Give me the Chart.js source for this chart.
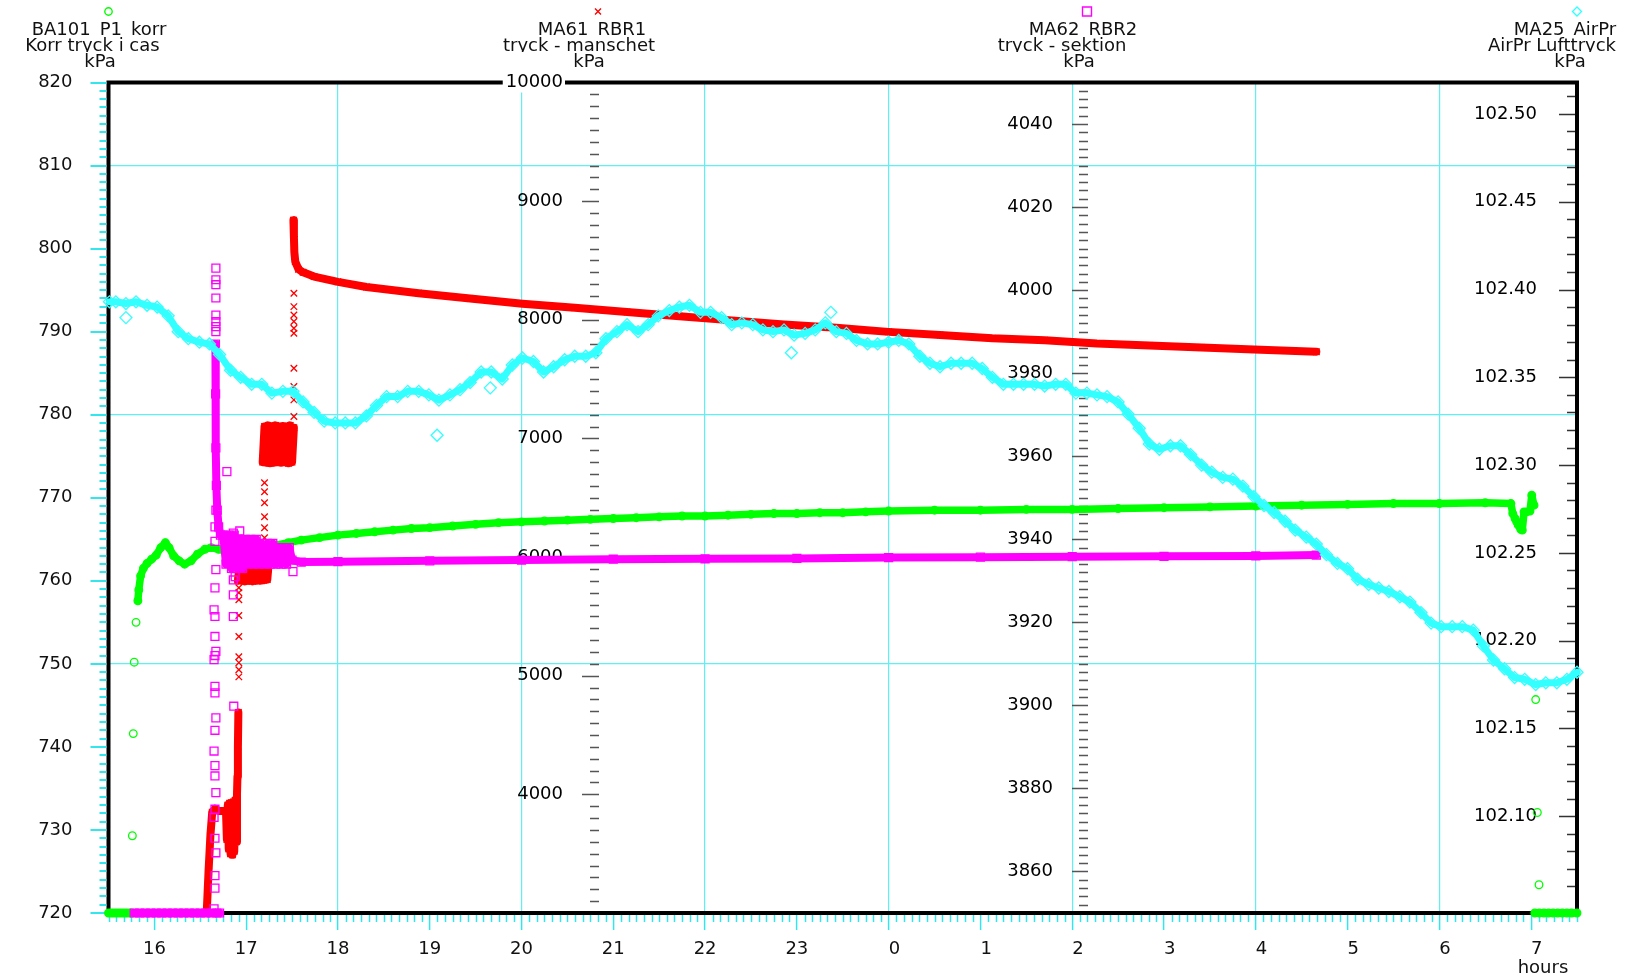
<!DOCTYPE html>
<html>
<head>
<meta charset="utf-8">
<title>BA101 / MA61 / MA62 / MA25</title>
<script src="https://cdn.jsdelivr.net/npm/chart.js@4.4.1/dist/chart.umd.min.js"></script>
<style>
  html, body { margin: 0; padding: 0; background: #fff; }
  canvas { display: block; }
</style>
</head>
<body>
<canvas id="trend" width="1637" height="977"></canvas>
<script>
// time is in hours, counted on past midnight (24 = 0:00, 31 = 7:00)
const hourTicks  = [16, 17, 18, 19, 20, 21, 22, 23, 24, 25, 26, 27, 28, 29, 30, 31];
const hourLabels = ['16', '17', '18', '19', '20', '21', '22', '23', '0', '1', '2', '3', '4', '5', '6', '7'];

// BA101_P1_korr, Korr tryck i cas (left scale, kPa) - null splits the segments
const korrTime = [
  15.50, 15.53, 15.56, 15.59, 15.62, 15.65, 15.68, 15.71, 15.74, 15.76, null,
  15.82, 15.83, 15.85, 15.88, 15.92, 15.97, 16.02, 16.07, 16.12, 16.16,
  16.21, 16.27, 16.33, 16.40, 16.47, 16.55, 16.62, 16.70, 16.78, 16.88,
  16.98, 17.08, 17.20, 17.33, 17.46, 17.60, 17.80, 18.00, 18.20, 18.40,
  18.60, 18.80, 19.00, 19.25, 19.50, 19.75, 20.00, 20.25, 20.50, 20.75,
  21.00, 21.25, 21.50, 21.75, 22.00, 22.25, 22.50, 22.75, 23.00, 23.25,
  23.50, 23.75, 24.00, 24.50, 25.00, 25.50, 26.00, 26.50, 27.00, 27.50,
  28.00, 28.50, 29.00, 29.50, 30.00, 30.50, 30.78, 30.80, 30.825, 30.843,
  30.86, 30.887, 30.904, 30.923, 30.95, 30.988, 31.007, 31.032, null,
  31.04, 31.09, 31.14, 31.19, 31.24, 31.29, 31.34, 31.39, 31.44, 31.50
];
const korrKpa = [
  720, 720, 720, 720, 720, 720, 720, 720, 720, 720, null,
  757.6, 758.9, 760.6, 761.5, 762.1, 762.6, 763.1, 764.0, 764.6, 764.0,
  763.0, 762.4, 762.0, 762.4, 763.2, 763.8, 764.0, 763.8, 763.6, 763.5,
  763.6, 763.8, 764.0, 764.3, 764.6, 764.9, 765.2, 765.5, 765.7, 765.9,
  766.1, 766.3, 766.4, 766.6, 766.8, 767.0, 767.1, 767.2, 767.3, 767.4,
  767.5, 767.6, 767.7, 767.8, 767.8, 767.9, 768.0, 768.1, 768.1, 768.2,
  768.2, 768.3, 768.4, 768.5, 768.5, 768.6, 768.6, 768.7, 768.8, 768.9,
  769.0, 769.1, 769.2, 769.3, 769.3, 769.4, 769.3, 768.1, 767.5, 767.1,
  766.7, 766.2, 766.1, 768.3, 768.3, 768.4, 770.3, 769.1, null,
  720, 720, 720, 720, 720, 720, 720, 720, 720, 720
];
// single readings that stand apart from the trace
const korrDotTime = [15.76, 15.77, 15.78, 15.80, 31.05, 31.068, 31.086];
const korrDotKpa  = [729.3, 741.6, 750.2, 755.0, 745.7, 732.1, 723.4];

// MA61_RBR1, tryck - manschet (kPa)
const manTime = [
  15.80, 15.90, 16.00, 16.10, 16.20, 16.30, 16.40, 16.50, 16.57,
  16.59, 16.61, 16.63, 16.66, 16.70, 16.74, 16.78,
  16.79, 16.80, 16.81, 16.82, 16.83, 16.84, 16.85, 16.86, 16.87, 16.88, 16.89, 16.90, 16.905, 16.91, 16.915,
  null,
  16.91, 16.93, 16.95, 16.97, 16.99, 17.01, 17.03, 17.05, 17.07, 17.09, 17.11, 17.13, 17.15, 17.17, 17.19, 17.21, 17.23, 17.24,
  null,
  17.18, 17.20, 17.22, 17.24, 17.26, 17.28, 17.30, 17.32, 17.34, 17.36, 17.38, 17.40, 17.42, 17.44, 17.46, 17.48, 17.50, 17.52,
  null,
  17.515, 17.52, 17.525, 17.535, 17.57, 17.62, 17.74, 18.00, 18.31, 18.88, 19.44, 20.01, 20.58, 21.15,
  21.72, 22.29, 22.86, 23.43, 24.00, 24.56, 25.13, 25.70, 26.27, 26.84, 27.41, 27.98, 28.66
];
const manKpa = [
  3000, 3000, 3000, 3000, 3000, 3000, 3000, 3000, 3000,
  3350, 3650, 3850, 3880, 3860, 3860, 3860,
  3620, 3910, 3540, 3925, 3500, 3930, 3490, 3935, 3520, 3950, 3600, 4000, 4150, 4400, 4690,
  null,
  5800, 5945, 5800, 5945, 5795, 5940, 5800, 5940, 5795, 5945, 5800, 5940, 5800, 5945, 5805, 5940, 5810, 5900,
  null,
  6800, 7100, 6795, 7110, 6790, 7100, 6795, 7110, 6800, 7100, 6795, 7105, 6800, 7100, 6790, 7110, 6800, 7090,
  null,
  8840, 8700, 8570, 8490, 8426, 8400, 8364, 8320, 8276, 8224, 8180, 8136, 8101, 8065,
  8030, 7995, 7960, 7933, 7898, 7872, 7845, 7828, 7801, 7784, 7766, 7749, 7731
];
const manDotTime = [
  16.92, 16.92, 16.92, 16.92, 16.92, 16.92, 16.92, 16.92, 16.92,
  17.20, 17.20, 17.20, 17.20, 17.20, 17.20, 17.20,
  17.52, 17.52, 17.52, 17.52, 17.52, 17.52, 17.52, 17.52, 17.52, 17.52
];
const manDotKpa = [
  4990, 5050, 5110, 5160, 5330, 5508, 5640, 5700, 5742,
  6087, 6163, 6247, 6340, 6458, 6550, 6626,
  7185, 7325, 7437, 7592, 7887, 7929, 7985, 8041, 8111, 8224
];

// MA62_RBR2, tryck - sektion (kPa)
const sekTime = [
  15.78, 15.84, 15.90, 15.96, 16.02, 16.08, 16.14, 16.20, 16.26, 16.32, 16.38, 16.44, 16.50, 16.56, 16.62, 16.68, 16.71,
  null,
  16.665, 16.667, 16.67, 16.675, 16.685, 16.70, 16.72,
  16.75, 16.78, 16.81, 16.84, 16.87, 16.90, 16.93, 16.96, 16.99, 17.02, 17.05, 17.08, 17.11,
  17.14, 17.17, 17.20, 17.23, 17.26, 17.29, 17.32, 17.35, 17.38, 17.41, 17.44, 17.47, 17.50,
  17.60, 18.00, 19.00, 20.00, 21.00, 22.00, 23.00, 24.00, 25.00, 26.00, 27.00, 28.00, 28.66
];
const sekKpa = [
  3850, 3850, 3850, 3850, 3850, 3850, 3850, 3850, 3850, 3850, 3850, 3850, 3850, 3850, 3850, 3850, 3850,
  null,
  3987, 3975, 3962, 3953, 3947, 3943, 3941,
  3941, 3934, 3941, 3933, 3941, 3933, 3940, 3933, 3940, 3934, 3940, 3934, 3940,
  3934, 3939, 3934, 3939, 3934, 3939, 3934, 3938, 3934, 3938, 3934, 3938, 3935,
  3934.5, 3934.6, 3934.8, 3935.0, 3935.2, 3935.3, 3935.4, 3935.6, 3935.7, 3935.8, 3935.9, 3936.0, 3936.2
];
const sekDotTime = [
  16.65, 16.66, 16.66, 16.67, 16.66, 16.65, 16.66, 16.67, 16.66, 16.66, 16.65, 16.66, 16.67,
  16.66, 16.66, 16.65, 16.66, 16.67, 16.66, 16.66, 16.65, 16.66, 16.67, 16.66, 16.66, 16.67,
  16.67, 16.67, 16.67, 16.67, 16.67, 16.67, 16.67, 16.67,
  16.79, 16.86, 16.86, 16.86, 16.86, 16.865, 16.88, 16.93, 17.51
];
const sekDotKpa = [
  3851, 3856, 3859, 3864.5, 3868, 3873, 3875, 3879, 3883, 3885.5, 3889, 3894, 3897,
  3903, 3904.6, 3911, 3912, 3913, 3916.6, 3921.4, 3923, 3928.3, 3932.7, 3939.5, 3943, 3947,
  3990, 3991.2, 3992.4, 3994, 3998.1, 4001.3, 4002.5, 4005.3,
  3956.3, 3941.5, 3930.2, 3926.6, 3921.4, 3899.8, 3931, 3942, 3932.2
];

// MA25_AirPr, AirPr Lufttryck (right scale, kPa)
const airTime = [
  15.51, 15.58, 15.69, 15.80, 15.92, 16.03, 16.15, 16.26, 16.37, 16.49,
  16.60, 16.71, 16.83, 16.94, 17.06, 17.17, 17.28, 17.40, 17.51, 17.62,
  17.74, 17.85, 17.97, 18.08, 18.19, 18.31, 18.42, 18.53, 18.65, 18.76,
  18.88, 18.99, 19.10, 19.22, 19.33, 19.44, 19.56, 19.67, 19.79, 19.90,
  20.01, 20.13, 20.24, 20.35, 20.47, 20.58, 20.70, 20.81, 20.92, 21.04,
  21.15, 21.27, 21.38, 21.49, 21.61, 21.72, 21.83, 21.95, 22.06, 22.18,
  22.29, 22.40, 22.52, 22.63, 22.74, 22.86, 22.97, 23.09, 23.20, 23.31,
  23.43, 23.54, 23.65, 23.77, 23.88, 24.00, 24.11, 24.22, 24.34, 24.45,
  24.56, 24.68, 24.79, 24.91, 25.02, 25.13, 25.25, 25.36, 25.47, 25.59,
  25.70, 25.82, 25.93, 26.04, 26.16, 26.27, 26.38, 26.50, 26.61, 26.73,
  26.84, 26.95, 27.07, 27.18, 27.29, 27.41, 27.52, 27.64, 27.75, 27.86,
  27.98, 28.09, 28.20, 28.32, 28.43, 28.55, 28.66, 28.77, 28.89, 29.00,
  29.11, 29.23, 29.34, 29.45, 29.57, 29.68, 29.80, 29.91, 30.02, 30.14,
  30.25, 30.37, 30.48, 30.59, 30.71, 30.82, 30.93, 31.05, 31.16, 31.28,
  31.39, 31.50
];
const airKpa = [
  102.393, 102.393, 102.392, 102.393, 102.391, 102.390, 102.385, 102.376, 102.372, 102.370,
  102.369, 102.363, 102.354, 102.350, 102.346, 102.346, 102.341, 102.342, 102.342, 102.336,
  102.330, 102.325, 102.324, 102.324, 102.324, 102.328, 102.334, 102.339, 102.339, 102.342,
  102.342, 102.340, 102.337, 102.340, 102.343, 102.347, 102.353, 102.353, 102.349, 102.357,
  102.361, 102.359, 102.353, 102.356, 102.360, 102.362, 102.362, 102.364, 102.372, 102.376,
  102.380, 102.376, 102.380, 102.385, 102.388, 102.390, 102.391, 102.387, 102.387, 102.384,
  102.380, 102.381, 102.380, 102.377, 102.376, 102.377, 102.374, 102.375, 102.377, 102.381,
  102.376, 102.375, 102.371, 102.369, 102.369, 102.370, 102.371, 102.369, 102.362, 102.358,
  102.356, 102.358, 102.358, 102.358, 102.355, 102.350, 102.346, 102.346, 102.346, 102.346,
  102.345, 102.346, 102.346, 102.341, 102.341, 102.340, 102.339, 102.336, 102.329, 102.321,
  102.312, 102.309, 102.311, 102.311, 102.306, 102.300, 102.296, 102.293, 102.292, 102.288,
  102.282, 102.277, 102.273, 102.268, 102.263, 102.259, 102.255, 102.249, 102.244, 102.241,
  102.235, 102.232, 102.230, 102.228, 102.225, 102.222, 102.216, 102.210, 102.208, 102.208,
  102.208, 102.206, 102.197, 102.189, 102.184, 102.179, 102.178, 102.175, 102.176, 102.176,
  102.178, 102.182
];
const airDotTime = [15.69, 19.08, 19.66, 22.94, 23.37];
const airDotKpa  = [102.384, 102.317, 102.344, 102.364, 102.387];

const GREEN = '#00ff00';
const RED = '#ff0000';
const MAGENTA = '#ff00ff';
const CYAN = '#33ffff';
const GRID_CYAN = '#5ff0f5';
const TICK_CYAN = '#33e6ee';
const FONT = '"DejaVu Sans", Verdana, sans-serif';
const CLEAR = 'rgba(0,0,0,0)';

// where the two inner scales stand, in hours
const MAN_AXIS_AT = 20.844;
const SEK_AXIS_AT = 26.172;

function pairs(ts, vs) {
    return ts.map((t, i) => ({ x: t, y: vs[i] }));
}

function trace(label, axis, ts, vs, color, width, style, radius) {
    return {
        label: label,
        yAxisID: axis,
        data: pairs(ts, vs),
        showLine: true,
        spanGaps: false,
        clip: false,
        borderColor: color,
        borderWidth: width,
        borderJoinStyle: 'round',
        borderCapStyle: 'round',
        pointStyle: style,
        pointRadius: radius,
        pointBorderColor: color,
        pointBackgroundColor: CLEAR,
        pointBorderWidth: 1.3
    };
}

function dots(label, axis, ts, vs, color, style, radius) {
    return {
        label: label,
        yAxisID: axis,
        data: pairs(ts, vs),
        showLine: false,
        clip: false,
        pointStyle: style,
        pointRadius: radius,
        pointBorderColor: color,
        pointBackgroundColor: CLEAR,
        pointBorderWidth: 1.3
    };
}

// frame, the small ticks and the two floating scales
const scaleDecor = {
    id: 'scaleDecor',
    beforeDatasetsDraw(chart) {
        const { ctx, chartArea: a, scales } = chart;
        const sx = scales.x;
        ctx.save();

        ctx.strokeStyle = '#000';
        ctx.lineWidth = 4;
        ctx.strokeRect(a.left, a.top, a.right - a.left, a.bottom - a.top);

        // left scale ticks (outside, cyan)
        ctx.strokeStyle = TICK_CYAN;
        ctx.lineWidth = 2;
        ctx.beginPath();
        for (let v = 720; v <= 820; v++) {
            const py = Math.round(scales.y.getPixelForValue(v));
            const len = v % 10 === 0 ? 18 : 9;
            ctx.moveTo(a.left - len, py);
            ctx.lineTo(a.left - 2, py);
        }
        ctx.stroke();

        // 5 minute ticks on the time axis
        ctx.lineWidth = 1.5;
        ctx.beginPath();
        for (let m = 0; m <= 192; m++) {
            if ((m - 6) % 12 === 0) continue;
            const px = Math.round(sx.getPixelForValue(15.5 + m / 12)) + 0.5;
            ctx.moveTo(px, a.bottom + 2);
            ctx.lineTo(px, a.bottom + 9);
        }
        ctx.stroke();

        ctx.font = '18px ' + FONT;
        ctx.textAlign = 'right';
        ctx.textBaseline = 'middle';

        // MA61 scale
        const ym = scales.yMan;
        const xm = Math.round(sx.getPixelForValue(MAN_AXIS_AT));
        ctx.strokeStyle = '#555';
        ctx.lineWidth = 1.6;
        ctx.beginPath();
        for (let v = 3100; v <= 9900; v += 100) {
            const py = Math.round(ym.getPixelForValue(v)) + 0.5;
            const len = v % 1000 === 0 ? 17 : 9;
            ctx.moveTo(xm - len, py);
            ctx.lineTo(xm, py);
        }
        ctx.stroke();
        for (let v = 4000; v <= 10000; v += 1000) {
            const py = ym.getPixelForValue(v);
            const text = String(v);
            if (v === 10000) {
                const w = ctx.measureText(text).width;
                ctx.fillStyle = '#fff';
                ctx.fillRect(xm - 36 - w - 3, py - 10, w + 5, 20);
            }
            ctx.fillStyle = '#000';
            ctx.fillText(text, xm - 36, py);
        }

        // MA62 scale
        const ys = scales.ySek;
        const xs = Math.round(sx.getPixelForValue(SEK_AXIS_AT));
        ctx.beginPath();
        for (let v = 3852; v <= 4048; v += 2) {
            const py = Math.round(ys.getPixelForValue(v)) + 0.5;
            const len = (v - 3860) % 20 === 0 ? 16 : 9;
            ctx.moveTo(xs - len, py);
            ctx.lineTo(xs, py);
        }
        ctx.stroke();
        for (let v = 3860; v <= 4040; v += 20) {
            ctx.fillText(String(v), xs - 35, ys.getPixelForValue(v));
        }

        // MA25 scale on the right (inside)
        const ya = scales.yAir;
        ctx.strokeStyle = '#333';
        ctx.beginPath();
        for (let k = 10206; k <= 10251; k++) {
            const py = Math.round(ya.getPixelForValue(k / 100)) + 0.5;
            const len = k % 5 === 0 ? 16 : 8;
            ctx.moveTo(a.right - 2 - len, py);
            ctx.lineTo(a.right - 2, py);
        }
        ctx.stroke();
        for (let k = 10210; k <= 10250; k += 5) {
            ctx.fillText((k / 100).toFixed(2), a.right - 40, ya.getPixelForValue(k / 100));
        }

        ctx.restore();
    }
};

const HEADERS = [
    { at: 'left',  marker: 'circle',  color: GREEN,   lines: ['BA101_P1_korr', 'Korr tryck i cas', 'kPa'], dx: [-9.5, -16, -8.5] },
    { at: 'man',   marker: 'cross',   color: RED,     lines: ['MA61_RBR1', 'tryck - manschet', 'kPa'],     dx: [-6, -19, -9] },
    { at: 'sek',   marker: 'square',  color: MAGENTA, lines: ['MA62_RBR2', 'tryck - sektion', 'kPa'],      dx: [-4, -25, -8] },
    { at: 'right', marker: 'diamond', color: CYAN,    lines: ['MA25_AirPr', 'AirPr Lufttryck', 'kPa'],     dx: [-12, -25, -7] }
];

// channel names above each scale, and the time unit
const headerText = {
    id: 'headerText',
    afterDraw(chart) {
        const { ctx, chartArea: a, scales } = chart;
        const anchors = {
            left: a.left,
            man: Math.round(scales.x.getPixelForValue(MAN_AXIS_AT)) - 1,
            sek: Math.round(scales.x.getPixelForValue(SEK_AXIS_AT)) - 1,
            right: a.right
        };
        const baselines = [35, 51, 67];
        ctx.save();
        ctx.font = '18px ' + FONT;
        ctx.textAlign = 'center';
        ctx.textBaseline = 'alphabetic';
        HEADERS.forEach(h => {
            const mx = anchors[h.at];
            const my = 11.5;
            ctx.strokeStyle = h.color;
            ctx.lineWidth = 1.4;
            ctx.beginPath();
            if (h.marker === 'circle') {
                ctx.arc(mx, my, 3.7, 0, Math.PI * 2);
            } else if (h.marker === 'cross') {
                ctx.moveTo(mx - 3, my - 3); ctx.lineTo(mx + 3, my + 3);
                ctx.moveTo(mx + 3, my - 3); ctx.lineTo(mx - 3, my + 3);
            } else if (h.marker === 'square') {
                ctx.rect(mx - 4.5, my - 4.5, 9, 9);
            } else {
                ctx.moveTo(mx, my - 4.5); ctx.lineTo(mx + 4.5, my);
                ctx.lineTo(mx, my + 4.5); ctx.lineTo(mx - 4.5, my); ctx.closePath();
            }
            ctx.stroke();

            let left = Infinity, right = -Infinity;
            h.lines.forEach((t, i) => {
                const w = ctx.measureText(t).width;
                left = Math.min(left, mx + h.dx[i] - w / 2);
                right = Math.max(right, mx + h.dx[i] + w / 2);
            });
            h.lines.forEach((t, i) => {
                if (i > 0) {
                    ctx.fillStyle = '#fff';
                    ctx.fillRect(left - 2, baselines[i] - 15, right - left + 4, 19);
                }
                ctx.fillStyle = '#111';
                ctx.fillText(t, mx + h.dx[i], baselines[i]);
            });
        });
        ctx.fillStyle = '#111';
        ctx.fillText('hours', 1543, 973);
        ctx.restore();
    }
};

const ctx = document.getElementById('trend').getContext('2d');
new Chart(ctx, {
    type: 'scatter',
    data: {
        datasets: [
            trace('MA25_AirPr', 'yAir', airTime, airKpa, CYAN, 7, 'rectRot', 6),
            dots('MA25_AirPr', 'yAir', airDotTime, airDotKpa, CYAN, 'rectRot', 6),
            trace('MA62_RBR2', 'ySek', sekTime, sekKpa, MAGENTA, 8, 'rect', 5.6),
            dots('MA62_RBR2', 'ySek', sekDotTime, sekDotKpa, MAGENTA, 'rect', 5.6),
            trace('MA61_RBR1', 'yMan', manTime, manKpa, RED, 8, 'crossRot', 4.6),
            dots('MA61_RBR1', 'yMan', manDotTime, manDotKpa, RED, 'crossRot', 4.6),
            trace('BA101_P1_korr', 'y', korrTime, korrKpa, GREEN, 7.5, 'circle', 3.8),
            dots('BA101_P1_korr', 'y', korrDotTime, korrDotKpa, GREEN, 'circle', 3.8)
        ]
    },
    options: {
        responsive: false,
        animation: false,
        devicePixelRatio: 1,
        events: [],
        layout: { padding: { top: 82.5, right: 60, bottom: 0, left: 0 } },
        plugins: {
            legend: { display: false },
            tooltip: { enabled: false }
        },
        scales: {
            x: {
                type: 'linear',
                position: 'bottom',
                bounds: 'data',
                min: 15.5,
                max: 31.5,
                afterFit: (scale) => { scale.height = 64; },
                afterBuildTicks: (scale) => { scale.ticks = hourTicks.map(v => ({ value: v })); },
                border: { display: false },
                grid: {
                    color: (c) => (c.tick && c.tick.value >= 18 && c.tick.value % 2 === 0) ? GRID_CYAN : CLEAR,
                    lineWidth: 1.2,
                    drawTicks: true,
                    tickLength: 17,
                    tickColor: TICK_CYAN,
                    tickWidth: 1.5
                },
                ticks: {
                    autoSkip: false,
                    maxRotation: 0,
                    padding: 9,
                    color: '#111',
                    font: { family: FONT, size: 18 },
                    callback: (v, i) => {
                        const text = hourLabels[i];
                        return text.length < 2 ? '  ' + text : text;
                    }
                }
            },
            y: {
                position: 'left',
                bounds: 'data',
                min: 720,
                max: 820,
                afterFit: (scale) => { scale.width = 108.5; },
                border: { display: false },
                grid: {
                    color: (c) => (c.tick && [750, 780, 810].includes(c.tick.value)) ? GRID_CYAN : CLEAR,
                    lineWidth: 1.2,
                    drawTicks: false
                },
                ticks: {
                    stepSize: 10,
                    padding: 36,
                    color: '#111',
                    font: { family: FONT, size: 18 }
                }
            },
            yMan: { display: false, bounds: 'data', min: 3000, max: 10000 },
            ySek: { display: false, bounds: 'data', min: 3850, max: 4050 },
            yAir: { display: false, bounds: 'data', min: 102.0449, max: 102.5179 }
        }
    },
    plugins: [scaleDecor, headerText]
});
</script>
</body>
</html>
